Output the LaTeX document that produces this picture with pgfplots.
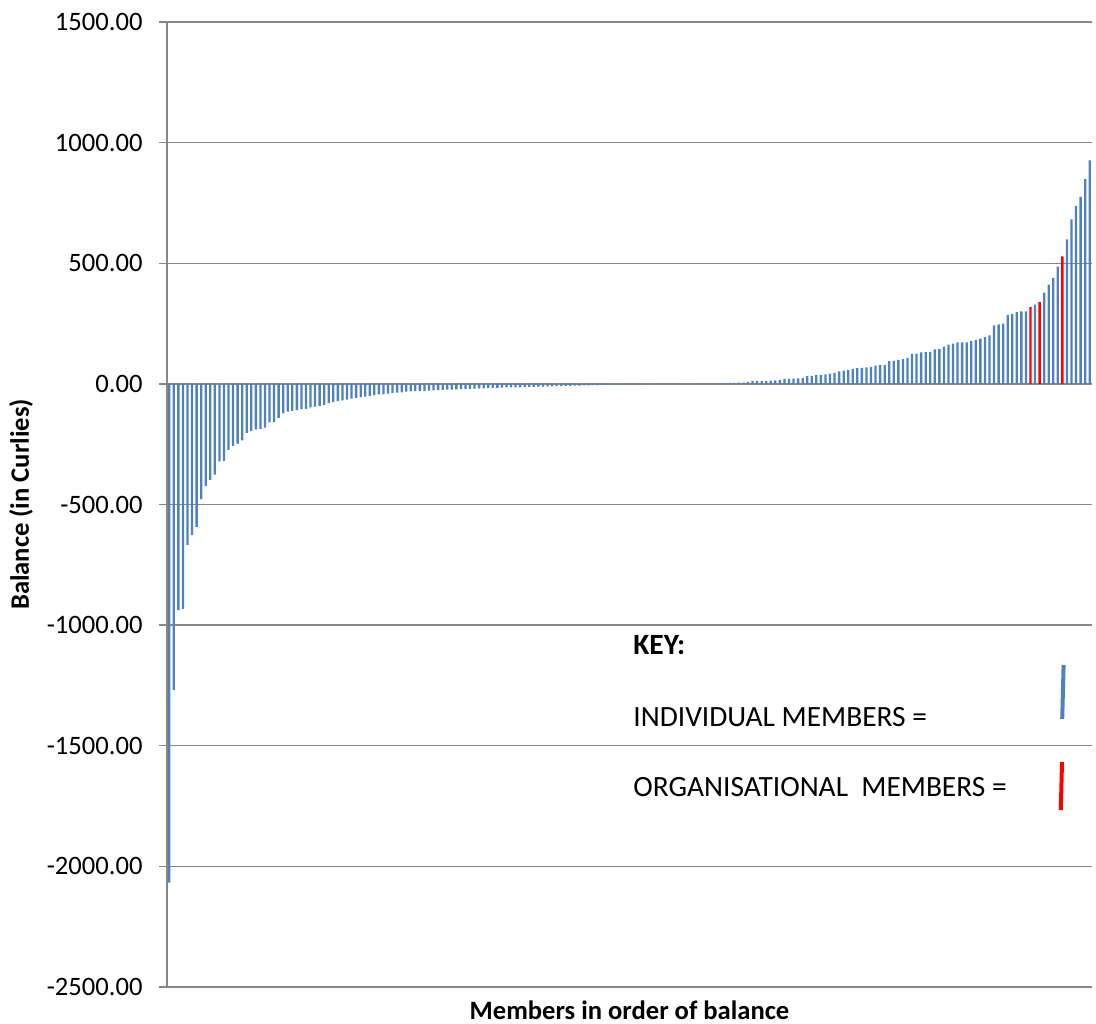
\documentclass[border=0pt]{standalone}
\usepackage{fontspec}
\setmainfont{Carlito}
\usepackage{pgfplots}
\pgfplotsset{compat=1.18}
\definecolor{barblue}{HTML}{4F81BD}
\definecolor{gridgray}{HTML}{868686}
\begin{document}
\begin{tikzpicture}
\useasboundingbox (-83.5pt,-18pt) rectangle (464.5pt,493.5pt);
\begin{axis}[
  at={(0,0)}, anchor=south west,
  scale only axis, width=462.5pt, height=482.5pt,
  xmin=-0.5, xmax=202.5, ymin=-2500, ymax=1500,
  ytick={-2500,-2000,...,1500}, xtick=\empty,
  axis lines*=left,
  axis line style={gridgray, line width=0.7pt, -},
  ymajorgrids, grid style={gridgray, line width=0.7pt},
  tick align=outside, major tick length=4pt,
  tick style={gridgray, line width=0.7pt},
  yticklabel={\pgfmathprintnumber[fixed,fixed zerofill,precision=2,1000 sep={},assume math mode=true]{\tick}},
  yticklabel style={font=\fontsize{13.3}{15}\selectfont, inner sep=0pt, xshift=-8pt, anchor=east},
  ylabel={Balance (in Curlies)},
  ylabel style={font=\bfseries\fontsize{13.3}{15}\selectfont, at={(axis description cs:0,0.5)}, anchor=center, yshift=73pt},
  xlabel={Members in order of balance},
  xlabel style={font=\bfseries\fontsize{13.3}{15}\selectfont, at={(axis description cs:0.5,0)}, anchor=center, yshift=-11.5pt},
]
% individual members
\addplot[ybar, bar shift=0pt, bar width=1.15pt, fill=barblue, draw=none] coordinates {
(0,-2067) (1,-1268) (2,-937) (3,-933) (4,-667) (5,-626) (6,-593) (7,-478) (8,-424) (9,-398)
(10,-376) (11,-321) (12,-319) (13,-274) (14,-257) (15,-248) (16,-234) (17,-203) (18,-195) (19,-189)
(20,-187) (21,-181) (22,-160) (23,-159) (24,-141) (25,-122) (26,-115) (27,-112) (28,-109) (29,-105)
(30,-104) (31,-97) (32,-94) (33,-91) (34,-87) (35,-80) (36,-76) (37,-72) (38,-68) (39,-65)
(40,-61) (41,-58) (42,-55) (43,-53) (44,-51) (45,-47) (46,-44) (47,-43) (48,-40) (49,-37)
(50,-36) (51,-35) (52,-32) (53,-31) (54,-30) (55,-30) (56,-29) (57,-28) (58,-27) (59,-26)
(60,-25) (61,-24) (62,-24) (63,-23) (64,-22) (65,-21) (66,-21) (67,-20) (68,-19) (69,-19)
(70,-18) (71,-17) (72,-17) (73,-16) (74,-15) (75,-15) (76,-14) (77,-14) (78,-13) (79,-12)
(80,-12) (81,-11) (82,-11) (83,-10) (84,-10) (85,-9) (86,-9) (87,-8) (88,-8) (89,-7)
(90,-7) (91,-6) (92,-6) (93,-5) (94,-5) (95,-4) (96,-4) (97,-3) (98,-3) (99,-3)
(100,-2) (101,-2) (102,-2) (103,-1) (104,-1)
(105,0) (106,0) (107,0) (108,0) (109,0) (110,0) (111,0) (112,0) (113,0) (114,0)
(115,0) (116,0) (117,0) (118,0) (119,0) (120,0) (121,0)
(122,3) (123,4) (124,4) (125,5) (126,5) (127,8) (128,12) (129,12) (130,12) (131,12)
(132,14) (133,15) (134,17) (135,21) (136,22) (137,22) (138,23) (139,25) (140,32) (141,33)
(142,36) (143,36) (144,39) (145,43) (146,46) (147,52) (148,55) (149,58) (150,61) (151,65)
(152,66) (153,68) (154,70) (155,76) (156,78) (157,78) (158,94) (159,96)
(160,99) (161,103) (162,108) (163,124) (164,125) (165,131) (166,132) (167,133) (168,143) (169,144)
(170,154) (171,163) (172,167) (173,172) (174,172) (175,172) (176,178) (177,182) (178,188) (179,194)
(180,201) (181,242) (182,247) (183,250) (184,286) (185,290) (186,297) (187,301) (188,301)
(190,328) (192,378) (193,411) (194,439) (195,486)
(197,599) (198,682) (199,738) (200,775) (201,849) (202,926)
};
% organisational members
\addplot[ybar, bar shift=0pt, bar width=1.15pt, fill=red, draw=none] coordinates {
(189,319) (191,339) (196,528)
};
\end{axis}
\node[anchor=base west, inner sep=0pt, font=\bfseries\fontsize{14.7}{17}\selectfont] at (233pt,166.5pt) {KEY:};
\node[anchor=base west, inner sep=0pt, font=\fontsize{14.7}{17}\selectfont] at (233pt,130.5pt) {INDIVIDUAL MEMBERS =};
\node[anchor=base west, inner sep=0pt, font=\fontsize{14.7}{17}\selectfont] at (233pt,95.2pt) {ORGANISATIONAL\ \ MEMBERS =};
\draw[barblue, line width=2pt] (448.3pt,161pt) -- (447.6pt,134pt);
\draw[red, line width=2pt] (447.5pt,112.5pt) -- (446.9pt,88.5pt);
\end{tikzpicture}
\end{document}
